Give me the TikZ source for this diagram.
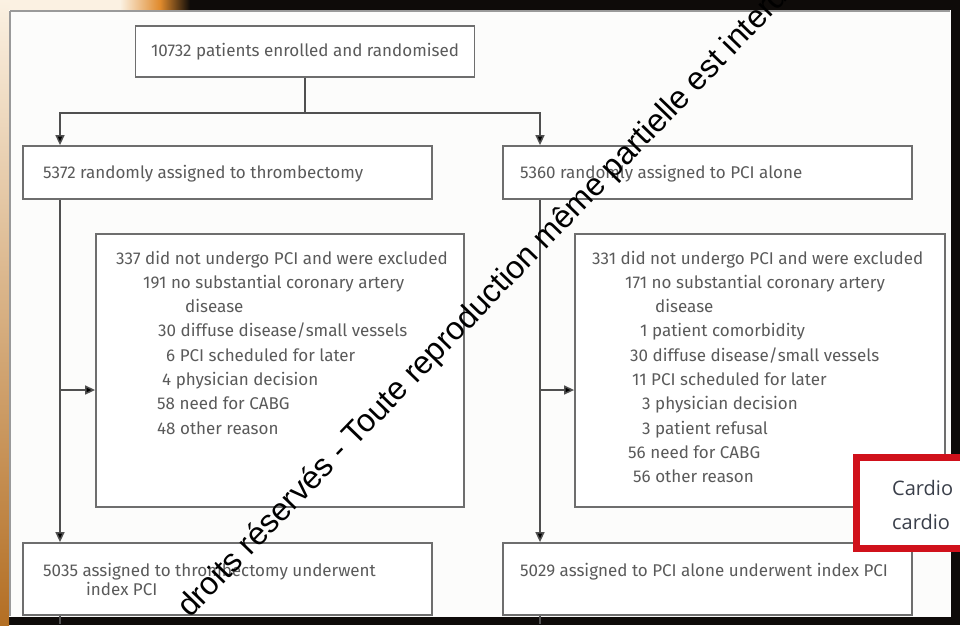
\documentclass[tikz,border=0pt]{standalone}
\usepackage{fontspec}
\setmainfont{Fira Sans}
\newfontfamily\wmfont{Liberation Sans}
\newfontfamily\redfont{Open Sans}
\usetikzlibrary{arrows.meta}
\definecolor{boxgray}{HTML}{6E6E6E}
\definecolor{txtgray}{HTML}{5A5A5A}
\definecolor{linegray}{HTML}{505050}
\definecolor{pagebg}{HTML}{FCFCFB}
\definecolor{photoblack}{HTML}{0E0B09}
\definecolor{glow}{HTML}{E08A2C}
\definecolor{cream}{HTML}{FBF1E2}
\definecolor{redframe}{HTML}{D0111B}
\definecolor{redtxt}{HTML}{3A3F4A}
\begin{document}
\begin{tikzpicture}[x=1pt,y=-1pt,
  box/.style={draw=boxgray, line width=1.8pt, fill=white, inner sep=0pt},
  txt/.style={anchor=base west, inner sep=0pt, text=txtgray, font=\fontsize{17}{20}\selectfont},
  conn/.style={draw=linegray, line width=1.5pt},
  arr/.style={conn, -{Triangle[length=10pt,width=9pt,fill=black]}}]
\useasboundingbox (0,0) rectangle (960,625);
\clip (0,0) rectangle (960,625);
% photo background
\fill[photoblack] (0,0) rectangle (960,625);
\fill[cream] (0,0) rectangle (140,10);
\shade[left color=cream, right color=glow] (120,0) rectangle (160,10);
\shade[left color=glow, right color=photoblack] (160,0) rectangle (190,10);
\shade[top color=cream, bottom color=glow!80!black] (0,0) rectangle (9,625);
\fill[pagebg] (9,10) rectangle (951,617);
\draw[boxgray!70, line width=1.2pt] (10,11) -- (950,11);
\draw[boxgray!70, line width=1.2pt] (10,11) -- (10,616);
% boxes
\node[box, minimum width=339pt, minimum height=51pt, font=\fontsize{17}{20}\selectfont, text=txtgray] (top) at (305,51.5) {10732 patients enrolled and randomised};
\node[box, minimum width=409pt, minimum height=53pt] (l2) at (227.5,172.5) {};
\node[box, minimum width=409pt, minimum height=53pt] (r2) at (707.5,172.5) {};
\node[box, minimum width=368pt, minimum height=273pt] (lx) at (280,370.5) {};
\node[box, minimum width=370pt, minimum height=273pt] (rx) at (760,370.5) {};
\node[box, minimum width=409pt, minimum height=72pt] (l3) at (227.5,579) {};
\node[box, minimum width=409pt, minimum height=72pt] (r3) at (707.5,579) {};
% box texts
\node[txt] (t2l) at (43,178) {5372 randomly assigned to thrombectomy};
\node[txt] (t2r) at (520,178) {5360 randomly assigned to PCI alone};
\node[txt] (t3l) at (43,576) {5035 assigned to thrombectomy underwent};
\node[txt] (t3l2) at (86,595) {index PCI};
\node[txt] (t3r) at (520,576) {5029 assigned to PCI alone underwent index PCI};
\foreach \i/\xx/\k/\s in {1/116/0/{337 did not undergo PCI and were excluded},
  2/143/1/{191 no substantial coronary artery},
  3/185/2/{disease},
  4/158/3/{30 diffuse disease\slash small vessels},
  5/166/4/{6 PCI scheduled for later},
  6/162/5/{4 physician decision},
  7/157/6/{58 need for CABG},
  8/157/7/{48 other reason}}
  \node[txt] (el\i) at (\xx,264+24.3*\k) {\s};
\foreach \i/\xx/\k/\s in {1/592/0/{331 did not undergo PCI and were excluded},
  2/625/1/{171 no substantial coronary artery},
  3/655/2/{disease},
  4/640/3/{1 patient comorbidity},
  5/630/4/{30 diffuse disease\slash small vessels},
  6/632/5/{11 PCI scheduled for later},
  7/642/6/{3 physician decision},
  8/642/7/{3 patient refusal},
  9/628/8/{56 need for CABG},
  10/633/9/{56 other reason}}
  \node[txt] (er\i) at (\xx,264+24.3*\k) {\s};
% connectors
\coordinate (split) at (305,113);
\coordinate (jl) at (60,113);
\coordinate (jr) at (540,113);
\coordinate (bl) at (60,390);
\coordinate (br) at (540,390);
\draw[conn] (top.south) -- (split);
\draw[arr] (split) -- (jl) -- (jl |- l2.north);
\draw[arr] (split) -- (jr) -- (jr |- r2.north);
\draw[arr] (jl |- l2.south) -- (jl |- l3.north);
\draw[arr] (jr |- r2.south) -- (jr |- r3.north);
\draw[arr] (bl) -- (bl -| lx.west);
\draw[arr] (br) -- (br -| rx.west);
\draw[conn] (jl |- l3.south) -- ++(0,8);
\draw[conn] (jr |- r3.south) -- ++(0,8);
% red framed panel
\node[draw=redframe, line width=7pt, fill=white, minimum width=130pt, minimum height=91pt, inner sep=0pt] (red) at (921.5,503) {};
\node[anchor=base west, inner sep=0pt, text=redtxt, font=\redfont\fontsize{20}{24}\selectfont] (c1) at (892,495) {Cardio};
\node[anchor=base west, inner sep=0pt, text=redtxt, font=\redfont\fontsize{20}{24}\selectfont] (c2) at (892,529) {cardio};
% watermark
\node[rotate=46, anchor=base west, inner sep=0pt, text=black, font=\wmfont\fontsize{32}{32}\selectfont] (wm) at (190,619) {droits réservés - Toute reproduction même partielle est interdite};
\end{tikzpicture}
\end{document}
